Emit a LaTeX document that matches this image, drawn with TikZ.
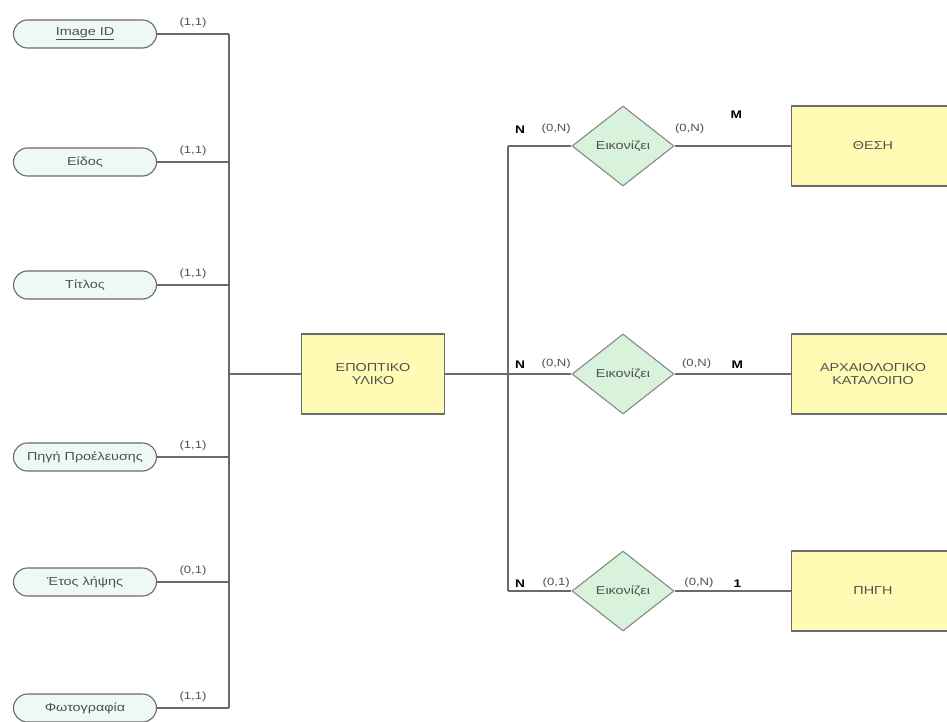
\documentclass[tikz,border=0pt]{standalone}
\usepackage{fontspec}
\setmainfont[FakeStretch=1.25]{Liberation Sans}
\usetikzlibrary{shapes.geometric,shapes.misc}
\definecolor{attrcol}{HTML}{EEF8F4}
\definecolor{entcol}{HTML}{FFFBB4}
\definecolor{relcol}{HTML}{D9F2DC}
\definecolor{linecol}{HTML}{6A6A6A}
\definecolor{txtcol}{HTML}{505050}
\begin{document}
\begin{tikzpicture}[x=1pt, y=-1pt, line join=round, line width=1.1pt,
	font=\fontsize{11.5}{13}\selectfont, color=linecol, text=txtcol,
	attr/.style={rounded rectangle, draw=linecol, fill=attrcol, minimum width=145pt, minimum height=28pt, inner sep=1pt},
	entity/.style={rectangle, draw=linecol, fill=entcol, minimum height=80pt, align=center, inner sep=1pt},
	rel/.style={diamond, draw=linecol!80, fill=relcol, minimum width=102pt, minimum height=80pt, inner sep=0pt},
	card/.style={font=\fontsize{10.5}{12}\selectfont, inner sep=1pt},
	mult/.style={font=\bfseries\fontsize{11}{12}\selectfont, text=black, inner sep=1pt}]
	\useasboundingbox (0,0) rectangle (947,722);
	\clip (0,0) rectangle (947,722);
	
	% Coordinates of the two buses
	\coordinate (busL) at (229,374);
	\coordinate (busR) at (508,374);
	
	% Attributes
	\node[attr] (imgid) at (85,34)  {\underline{Image ID}};
	\node[attr] (eidos) at (85,162) {Είδος};
	\node[attr] (titlos) at (85,285) {Τίτλος};
	\node[attr] (pigiprov) at (85,457) {Πηγή Προέλευσης};
	\node[attr] (etos) at (85,582) {Έτος λήψης};
	\node[attr] (photo) at (85,708) {Φωτογραφία};
	
	% Entities
	\node[entity, minimum width=143pt] (yliko) at (373,374) {ΕΠΟΠΤΙΚΟ\\ΥΛΙΚΟ};
	\node[entity, minimum width=163pt] (thesi) at (873,146) {ΘΕΣΗ};
	\node[entity, minimum width=163pt] (katal) at (873,374) {ΑΡΧΑΙΟΛΟΓΙΚΟ\\ΚΑΤΑΛΟΙΠΟ};
	\node[entity, minimum width=163pt] (pigi) at (873,591) {ΠΗΓΗ};
	
	% Relationships
	\node[rel] (eik1) at (623,146) {Εικονίζει};
	\node[rel] (eik2) at (623,374) {Εικονίζει};
	\node[rel] (eik3) at (623,591) {Εικονίζει};
	
	% Left bus
	\draw (busL |- imgid) -- (busL |- photo);
	\foreach \a/\c in {imgid/{(1,1)}, eidos/{(1,1)}, titlos/{(1,1)}, pigiprov/{(1,1)}, etos/{(0,1)}, photo/{(1,1)}}
		\draw (\a.east) -- node[card, above=5pt] {\c} (\a.east -| busL);
	\draw (busL) -- (yliko.west);
	
	% Right bus
	\draw (yliko.east) -- (busR);
	\draw (busR |- eik1) -- (busR |- eik3);
	
	% Relationship lines
	\draw (busR |- eik1) -- node[mult, pos=0.19, above=11pt] {N} node[card, pos=0.76, above=11pt] {(0,N)} (eik1.west);
	\draw (eik1.east) -- node[card, pos=0.13, above=11pt] {(0,N)} node[mult, pos=0.53, above=26pt] {M} (thesi.west);
	\draw (busR |- eik2) -- node[mult, pos=0.19, above=4pt] {N} node[card, pos=0.76, above=4pt] {(0,N)} (eik2.west);
	\draw (eik2.east) -- node[card, pos=0.19, above=4pt] {(0,N)} node[mult, pos=0.54, above=4pt] {M} (katal.west);
	\draw (busR |- eik3) -- node[mult, pos=0.19, above=2pt] {N} node[card, pos=0.76, above=2pt] {(0,1)} (eik3.west);
	\draw (eik3.east) -- node[card, pos=0.21, above=2pt] {(0,N)} node[mult, pos=0.54, above=2pt] {1} (pigi.west);
\end{tikzpicture}
\end{document}
